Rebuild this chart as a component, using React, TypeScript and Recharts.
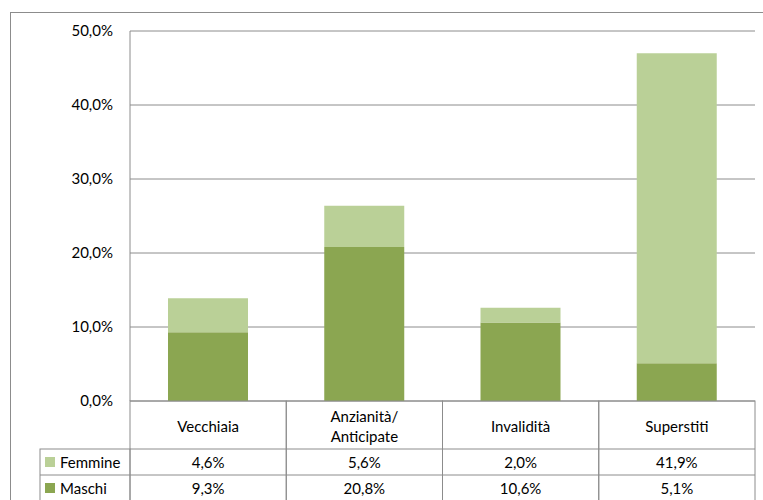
import { BarChart, Bar, XAxis, YAxis, CartesianGrid } from 'recharts';

const categories = ['Vecchiaia', 'Anzianità/\nAnticipate', 'Invalidità', 'Superstiti'];
const femmine = [4.6, 5.6, 2.0, 41.9];
const maschi = [9.3, 20.8, 10.6, 5.1];
const yTicks = [0, 10, 20, 30, 40, 50];

const FONT = 'Lato, "Open Sans", sans-serif';
const LINE = '#8c8c8c';
const DARK = '#8ba651';
const LIGHT = '#bad097';

const W = 763;
const H = 500;
const PLOT_LEFT = 130;
const PLOT_RIGHT = 755;
const PLOT_TOP = 31;
const PLOT_BOTTOM = 401;
const BAND = (PLOT_RIGHT - PLOT_LEFT) / categories.length;

const data = categories.map((name, i) => ({ name, Femmine: femmine[i], Maschi: maschi[i] }));

const fmt = (v: number) => v.toFixed(1).replace('.', ',') + '%';

const TableTick = ({ x, y, payload, index }: any) => {
  const left = x - BAND / 2;
  const top = y;
  const r1 = top + 48;
  const r2 = r1 + 26;
  const lines = String(payload.value).split('\n');
  return (
    <g fontFamily={FONT} fontSize={15} fill="#000">
      <rect x={left} y={top} width={BAND} height={150} fill="none" stroke={LINE} />
      <line x1={left} x2={left + BAND} y1={r1} y2={r1} stroke={LINE} />
      <line x1={left} x2={left + BAND} y1={r2} y2={r2} stroke={LINE} />
      {lines.map((t, k) => (
        <text key={k} x={x} y={top + 25 + (k - (lines.length - 1) / 2) * 20} textAnchor="middle" dominantBaseline="central">
          {t}
        </text>
      ))}
      <text x={x} y={r1 + 13} textAnchor="middle" dominantBaseline="central">{fmt(femmine[index])}</text>
      <text x={x} y={r2 + 13} textAnchor="middle" dominantBaseline="central">{fmt(maschi[index])}</text>
      {index === 0 && (
        <g>
          <rect x={40} y={r1} width={left - 40} height={100} fill="none" stroke={LINE} />
          <line x1={40} x2={left} y1={r2} y2={r2} stroke={LINE} />
          <rect x={45} y={r1 + 8} width={10} height={10} fill={LIGHT} />
          <rect x={45} y={r2 + 8} width={10} height={10} fill={DARK} />
          <text x={60} y={r1 + 13} dominantBaseline="central">Femmine</text>
          <text x={60} y={r2 + 13} dominantBaseline="central">Maschi</text>
        </g>
      )}
    </g>
  );
};

export default function App() {
  return (
    <div style={{ position: 'absolute', left: 0, top: 0, width: W, height: H, background: '#fff', overflow: 'hidden' }}>
      <div style={{ position: 'absolute', left: 10, top: 12, width: 800, height: 600, border: `1px solid ${LINE}` }} />
      <div style={{ position: 'absolute', left: 0, top: 0 }}>
        <BarChart
          width={W}
          height={H}
          data={data}
          margin={{ top: PLOT_TOP, right: W - PLOT_RIGHT, left: 50, bottom: 0 }}
        >
          <CartesianGrid vertical={false} stroke={LINE} strokeWidth={1} />
          <YAxis
            width={PLOT_LEFT - 50}
            domain={[0, 50]}
            ticks={yTicks}
            tickFormatter={fmt}
            axisLine={{ stroke: LINE }}
            tickLine={false}
            tickSize={8}
            tickMargin={9}
            tick={{ fontFamily: FONT, fontSize: 15, fill: '#000' }}
          />
          <XAxis
            dataKey="name"
            height={H - PLOT_BOTTOM}
            axisLine={false}
            tickLine={false}
            tickSize={0}
            tickMargin={0}
            interval={0}
            tick={<TableTick />}
          />
          <Bar dataKey="Maschi" stackId="a" fill={DARK} barSize={80} isAnimationActive={false} />
          <Bar dataKey="Femmine" stackId="a" fill={LIGHT} barSize={80} isAnimationActive={false} />
        </BarChart>
      </div>
    </div>
  );
}
